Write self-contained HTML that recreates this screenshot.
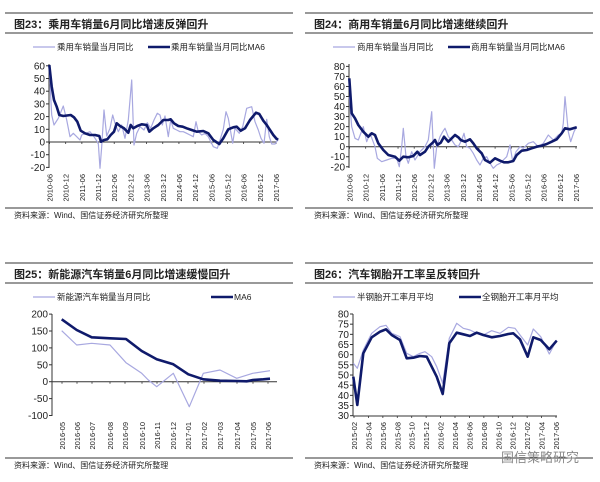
<!DOCTYPE html>
<html><head><meta charset="utf-8"><style>
html,body{margin:0;padding:0;background:#fff;}
svg{display:block;}
text{font-family:"Liberation Sans","Noto Sans CJK SC",sans-serif;fill:#222;}
</style></head><body>
<svg id="s" width="600" height="482" viewBox="0 0 600 482" xmlns="http://www.w3.org/2000/svg"></svg>
<script>
const S=document.getElementById('s');let h='';
function line(x1,y1,x2,y2,c,w){h+=`<line x1="${x1}" y1="${y1}" x2="${x2}" y2="${y2}" stroke="${c}" stroke-width="${w}"/>`;}
function txt(x,y,t,sz,anc,extra){h+=`<text x="${x}" y="${y}" font-size="${sz}" text-anchor="${anc||'start'}" ${extra||''}>${t}</text>`;}
function poly(ox,oy,pts,c,w){let p=[];for(let i=0;i<pts.length;i+=2)p.push((ox+pts[i]/3).toFixed(1)+','+(oy+pts[i+1]/3).toFixed(1));h+=`<polyline points="${p.join(' ')}" fill="none" stroke="${c}" stroke-width="${w}" stroke-linejoin="round"/>`;}
const L='#a8a8e0',D='#0f1a6b';
function panel(ox,oy,title,leg1,leg2,leg2x,ticks,ax,ay0,ay1,axEnd,zeroY,dates,dx,light,dark,src){
 line(ox+5,oy+13,ox+293,oy+13,'#333',1);
 txt(ox+14,oy+28,title,11,'start','font-weight="bold"');
 line(ox+5,oy+33,ox+293,oy+33,'#333',1);
 // legend
 line(ox+33,oy+47,ox+55,oy+47,L,1.2);txt(ox+57,oy+50,leg1,8.5);
 line(ox+leg2x-22,oy+47,ox+leg2x,oy+47,D,2.5);txt(ox+leg2x+1,oy+50,leg2,8.5);
 // y axis
 line(ax,ay0,ax,ay1,'#333',1);
 ticks.forEach(t=>{line(ax-3,t[1],ax,t[1],'#333',1);txt(ax-4,t[1]+3.5,t[0],10,'end');});
 line(ax,zeroY,axEnd,zeroY,'#333',1);
 dates.forEach((d,i)=>{const x=dx[i];line(x,zeroY,x,zeroY+2,'#333',0.8);txt(x+3,ay1+6,d,7.5,'end',`transform="rotate(-90 ${x+3} ${ay1+6})"`);});
 poly(ox,oy,light,L,1.2);poly(ox,oy,dark,D,2.6);
 line(ox+5,oy+src-10,ox+293,oy+src-10,'#333',1);
 txt(ox+14,oy+src,'资料来源：Wind、国信证券经济研究所整理',8);
}
function rng(a,b,n){let r=[];for(let i=0;i<n;i++)r.push(a+(b-a)*i/(n-1));return r;}
// Panel 1
let d1=['2010-06','2010-12','2011-06','2011-12','2012-06','2012-12','2013-06','2013-12','2014-06','2014-12','2015-06','2015-12','2016-06','2016-12','2017-06'];
panel(0,0,'图23：乘用车销量6月同比增速反弹回升','乘用车销量当月同比','乘用车销量当月同比MA6',170,
 [60,50,40,30,20,10,0,-10,-20].map(v=>[v,142-v*1.27]),49,64,168,277,142,d1,rng(49.5,276,15),
 [148,210,155,345,162,375,175,355,190,318,200,360,210,410,220,400,230,410,240,420,245,405,258,400,270,395,282,410,295,430,300,505,305,440,312,330,320,408,330,385,338,345,345,370,355,395,365,375,375,415,385,360,395,240,402,435,410,400,420,380,432,390,442,368,452,385,462,360,472,340,480,345,487,375,495,348,505,410,512,360,520,385,530,390,540,395,550,395,560,400,570,405,580,410,588,365,595,395,605,405,615,400,625,410,640,440,652,445,660,420,670,388,678,335,685,355,698,430,705,385,718,400,728,380,740,325,755,320,765,365,775,390,783,415,792,430,800,358,808,410,815,432,825,432,835,418],
 [148,195,155,260,162,300,170,320,178,345,190,348,212,345,222,352,232,365,242,392,255,400,270,405,285,405,298,408,303,425,312,420,322,418,332,405,342,395,350,370,360,378,372,385,385,398,392,375,400,385,412,378,425,373,440,375,448,395,460,385,475,375,490,360,505,360,512,358,522,370,535,378,548,380,560,385,575,390,590,395,610,393,625,400,640,420,658,432,670,415,685,388,700,382,710,380,722,392,735,385,750,360,768,338,778,342,790,362,800,375,810,390,820,405,830,417,835,418],218);
// Panel 2
panel(300,0,'图24：商用车销量6月同比增速继续回升','商用车销量当月同比','商用车销量当月同比MA6',170,
 [80,70,60,50,40,30,20,10,0,-10,-20].map(v=>[v,146.7-v*1.004]),349,64,168,577,146.7,d1,rng(349.5,576,15),
 [148,290,155,380,165,415,175,420,190,380,200,425,210,400,225,440,232,475,245,485,260,480,275,475,290,475,298,500,305,440,310,385,318,470,325,490,335,455,345,480,360,455,375,440,385,420,395,335,403,505,410,440,420,410,428,395,435,385,445,410,455,420,465,435,475,440,485,420,492,400,500,440,510,445,520,460,530,480,540,495,550,475,560,470,570,490,580,505,590,495,600,490,610,480,620,470,630,435,638,485,648,455,660,440,670,445,685,430,700,425,715,440,730,430,745,405,760,420,775,405,785,400,790,370,795,290,805,395,812,425,822,395,830,380],
 [148,235,155,340,165,355,175,375,190,395,205,410,215,400,225,405,235,430,250,450,265,465,285,470,298,482,310,470,325,472,340,468,352,455,360,465,375,455,385,440,398,428,405,420,412,435,422,428,432,410,445,425,455,415,465,405,475,412,482,420,495,425,510,418,520,430,530,445,545,460,555,480,570,488,585,475,600,482,612,487,625,487,640,483,650,465,665,452,680,450,695,445,710,440,725,437,740,432,755,425,770,418,785,400,795,385,810,388,820,385,830,382],218);
// Panel 3
let d3=['2016-05','2016-06','2016-07','2016-08','2016-09','2016-10','2016-11','2016-12','2017-01','2017-02','2017-03','2017-04','2017-05','2017-06'];
panel(0,250,'图25：新能源汽车销量6月同比增速缓慢回升','新能源汽车销量当月同比','MA6',233,
 [200,150,100,50,0,-50,-100].map(v=>[v,381.7-v*0.338]),52,314,416,277,381.7,
 ['2016-05','2016-06','2016-07','2016-08','2016-09','2016-10','2016-11','2016-12','2017-01','2017-02','2017-03','2017-04','2017-05','2017-06'],
 [62,77,92,110,125,142,157,173,188,204,220,237,253,268],
 [185,242,230,285,275,280,330,285,378,338,425,370,445,390,470,410,520,370,568,470,610,370,660,360,710,385,758,370,810,362],
 [185,208,230,240,275,262,330,265,378,267,425,303,470,328,520,343,565,373,610,388,660,392,710,393,740,394,758,390,790,388,810,386],218);
// Panel 4
let d4=['2015-02','2015-04','2015-06','2015-08','2015-10','2015-12','2016-02','2016-04','2016-06','2016-08','2016-10','2016-12','2017-02','2017-04','2017-06'];
panel(300,250,'图26：汽车钢胎开工率呈反转回升','半钢胎开工率月平均','全钢胎开工率月平均',181,
 [80,75,70,65,60,55,50,45,40,35,30].map((v,i)=>[v,314+i*10.17]),353,314,416,557,416,d4,rng(354,556,15),
 [160,340,172,355,190,300,215,250,240,230,258,226,275,250,300,260,320,310,340,320,360,310,375,305,395,320,410,350,428,400,448,265,470,220,490,235,510,240,530,250,550,255,575,242,600,250,625,232,645,235,660,255,683,285,700,237,722,260,748,312,770,270],
 [160,380,172,465,190,310,215,262,240,245,258,238,275,255,300,270,320,325,340,323,360,318,380,320,395,350,410,380,428,432,448,280,470,248,490,253,510,258,530,248,550,255,575,262,600,258,625,252,640,250,660,268,683,320,700,262,722,270,748,298,770,272],218);
h+='<text x="540" y="462" font-size="13" text-anchor="middle" fill="#888" style="fill:#8a8a8a">国信策略研究</text>';
S.innerHTML=h;
</script>
</body></html>
